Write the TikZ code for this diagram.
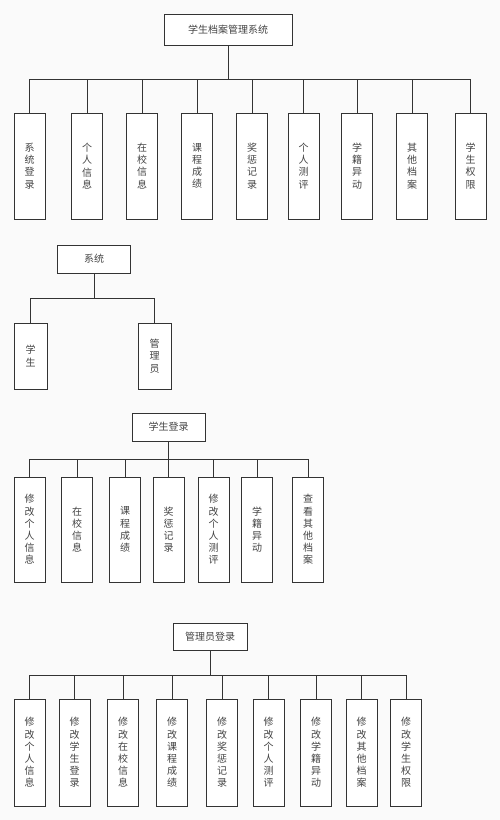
\documentclass[tikz,border=0pt]{standalone}
\usepackage{fontspec}
\setmainfont{Noto Sans CJK SC}
\usepackage{tikz}
\usetikzlibrary{positioning}
\definecolor{bg}{HTML}{FAFAFA}
\definecolor{edge}{HTML}{333333}
\definecolor{ink}{HTML}{444444}

\tikzset{
  rootbox/.style={draw=edge, line width=0.9pt, fill=white, text=ink, inner sep=0pt,
    font=\fontsize{10pt}{12pt}\selectfont},
  leafbox/.style={draw=edge, line width=0.9pt, fill=white, text=ink, inner sep=0pt,
    minimum width=31pt, align=center, font=\fontsize{10pt}{12.2pt}\selectfont},
  link/.style={draw=edge, line width=0.9pt}
}

\begin{document}
\begin{tikzpicture}
          [x=1pt, y=-1pt]
          \fill[bg] (0,0) rectangle (500,820);
          \useasboundingbox (0,0) rectangle (500,820);

          % overall system
          \node (sys) [rootbox, minimum width=128pt, minimum height=31pt] at (228,29.5) {学生档案管理系统};
          \node (s1) [leafbox, minimum height=106pt] at (29.5,166) {系\\统\\登\\录};
          \node (s2) [leafbox, minimum height=106pt] at (87,166) {个\\人\\信\\息};
          \node (s3) [leafbox, minimum height=106pt] at (142,166) {在\\校\\信\\息};
          \node (s4) [leafbox, minimum height=106pt] at (197,166) {课\\程\\成\\绩};
          \node (s5) [leafbox, minimum height=106pt] at (252,166) {奖\\惩\\记\\录};
          \node (s6) [leafbox, minimum height=106pt] at (303.5,166) {个\\人\\测\\评};
          \node (s7) [leafbox, minimum height=106pt] at (357,166) {学\\籍\\异\\动};
          \node (s8) [leafbox, minimum height=106pt] at (412,166) {其\\他\\档\\案};
          \node (s9) [leafbox, minimum height=106pt] at (470.5,166) {学\\生\\权\\限};
          \draw[link] (sys.south) -- (sys.south |- 0,79) coordinate (sysbus);
          \foreach \c in {s1,s2,s3,s4,s5,s6,s7,s8,s9}
            \draw[link] (\c.north) |- (sysbus);

          % users
          \node (usr) [rootbox, minimum width=73pt, minimum height=28pt] at (94,259) {系统};
          \node (u1) [leafbox, minimum width=33pt, minimum height=66pt] at (30.5,356) {学\\生};
          \node (u2) [leafbox, minimum width=33pt, minimum height=66pt] at (154.5,356) {管\\理\\员};
          \draw[link] (usr.south) -- (usr.south |- 0,298) coordinate (usrbus);
          \draw[link] (u1.north) |- (usrbus);
          \draw[link] (u2.north) |- (usrbus);

          % student login
          \node (stu) [rootbox, minimum width=73pt, minimum height=28pt] at (168.5,427) {学生登录};
          \node (t1) [leafbox, minimum height=105pt] at (29.5,529.5) {修\\改\\个\\人\\信\\息};
          \node (t2) [leafbox, minimum height=105pt] at (77,529.5) {在\\校\\信\\息};
          \node (t3) [leafbox, minimum height=105pt] at (125,529.5) {课\\程\\成\\绩};
          \node (t4) [leafbox, minimum height=105pt] at (168.5,529.5) {奖\\惩\\记\\录};
          \node (t5) [leafbox, minimum height=105pt] at (213.5,529.5) {修\\改\\个\\人\\测\\评};
          \node (t6) [leafbox, minimum height=105pt] at (257,529.5) {学\\籍\\异\\动};
          \node (t7) [leafbox, minimum height=105pt] at (308,529.5) {查\\看\\其\\他\\档\\案};
          \draw[link] (stu.south) -- (stu.south |- 0,459) coordinate (stubus);
          \foreach \c in {t1,t2,t3,t4,t5,t6,t7}
            \draw[link] (\c.north) |- (stubus);

          % admin login
          \node (adm) [rootbox, minimum width=74pt, minimum height=27pt] at (210,636.5) {管理员登录};
          \node (a1) [leafbox, minimum height=107pt] at (29.5,752.5) {修\\改\\个\\人\\信\\息};
          \node (a2) [leafbox, minimum height=107pt] at (74.5,752.5) {修\\改\\学\\生\\登\\录};
          \node (a3) [leafbox, minimum height=107pt] at (123,752.5) {修\\改\\在\\校\\信\\息};
          \node (a4) [leafbox, minimum height=107pt] at (172,752.5) {修\\改\\课\\程\\成\\绩};
          \node (a5) [leafbox, minimum height=107pt] at (222,752.5) {修\\改\\奖\\惩\\记\\录};
          \node (a6) [leafbox, minimum height=107pt] at (268.5,752.5) {修\\改\\个\\人\\测\\评};
          \node (a7) [leafbox, minimum height=107pt] at (316,752.5) {修\\改\\学\\籍\\异\\动};
          \node (a8) [leafbox, minimum height=107pt] at (361.5,752.5) {修\\改\\其\\他\\档\\案};
          \node (a9) [leafbox, minimum height=107pt] at (406,752.5) {修\\改\\学\\生\\权\\限};
          \draw[link] (adm.south) -- (adm.south |- 0,675) coordinate (admbus);
          \foreach \c in {a1,a2,a3,a4,a5,a6,a7,a8,a9}
            \draw[link] (\c.north) |- (admbus);
        \end{tikzpicture}
\end{document}
